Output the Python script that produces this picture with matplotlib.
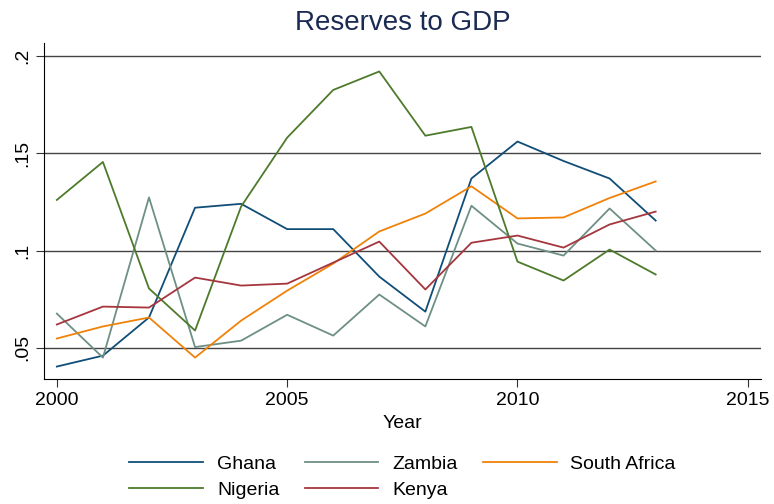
import matplotlib.pyplot as plt
import numpy as np

plt.rcParams['font.family'] = ['Liberation Sans', 'DejaVu Sans']

years = np.arange(2000, 2014)
ghana = [0.0404, 0.046, 0.0656, 0.122, 0.124, 0.111, 0.111, 0.0866, 0.0686, 0.137, 0.156, 0.146, 0.137, 0.1154]
zambia = [0.0676, 0.045, 0.1273, 0.0504, 0.0537, 0.067, 0.0563, 0.0774, 0.061, 0.123, 0.1036, 0.0974, 0.1216, 0.100]
south_africa = [0.0548, 0.061, 0.0656, 0.045, 0.064, 0.0794, 0.0933, 0.1098, 0.119, 0.133, 0.1165, 0.117, 0.127, 0.1355]
nigeria = [0.126, 0.1455, 0.0805, 0.0589, 0.1226, 0.158, 0.1825, 0.192, 0.159, 0.1635, 0.0943, 0.0846, 0.1005, 0.0877]
kenya = [0.062, 0.0712, 0.0707, 0.0861, 0.082, 0.083, 0.0938, 0.1046, 0.080, 0.104, 0.1077, 0.1015, 0.1134, 0.120]

fig = plt.figure(figsize=(7.74, 5.04), dpi=100)
ax = fig.add_axes([0.0568, 0.248, 0.926, 0.667])

l_gh, = ax.plot(years, ghana, color='#104e78', lw=1.3, label='Ghana')
l_za, = ax.plot(years, zambia, color='#6e9084', lw=1.3, label='Zambia')
l_sa, = ax.plot(years, south_africa, color='#f0820a', lw=1.3, label='South Africa')
l_ng, = ax.plot(years, nigeria, color='#4e7a2c', lw=1.3, label='Nigeria')
l_ke, = ax.plot(years, kenya, color='#a5363e', lw=1.3, label='Kenya')

ax.set_xlim(1999.72, 2015.28)
ax.set_ylim(0.034, 0.2067)
ax.set_xticks([2000, 2005, 2010, 2015])
ax.set_yticks([0.05, 0.1, 0.15, 0.2])
ax.set_yticklabels(['.05', '.1', '.15', '.2'], rotation=90, va='center')
ax.tick_params(labelsize=14, length=6, width=0.8, color='#333333')
ax.grid(axis='y', color='#444444', lw=1)
ax.set_axisbelow(True)
for s in ['top', 'right']:
    ax.spines[s].set_visible(False)
ax.spines['left'].set_linewidth(0.8)
ax.spines['bottom'].set_linewidth(0.8)

ax.set_xlabel('Year', fontsize=14, labelpad=4)
ax.set_title('Reserves to GDP', fontsize=20, color='#1a2a52', pad=9)

# row-wise order like Stata: Ghana, Zambia, South Africa / Nigeria, Kenya
handles = [l_gh, l_ng, l_za, l_ke, l_sa]
fig.legend(handles=handles, labels=[h.get_label() for h in handles],
           loc='lower center', bbox_to_anchor=(0.52, -0.025), ncol=3, frameon=False,
           fontsize=14, handlelength=3.8, handletextpad=0.7, columnspacing=1.3,
           labelspacing=0.45)

fig.savefig('out.png', dpi=100)
